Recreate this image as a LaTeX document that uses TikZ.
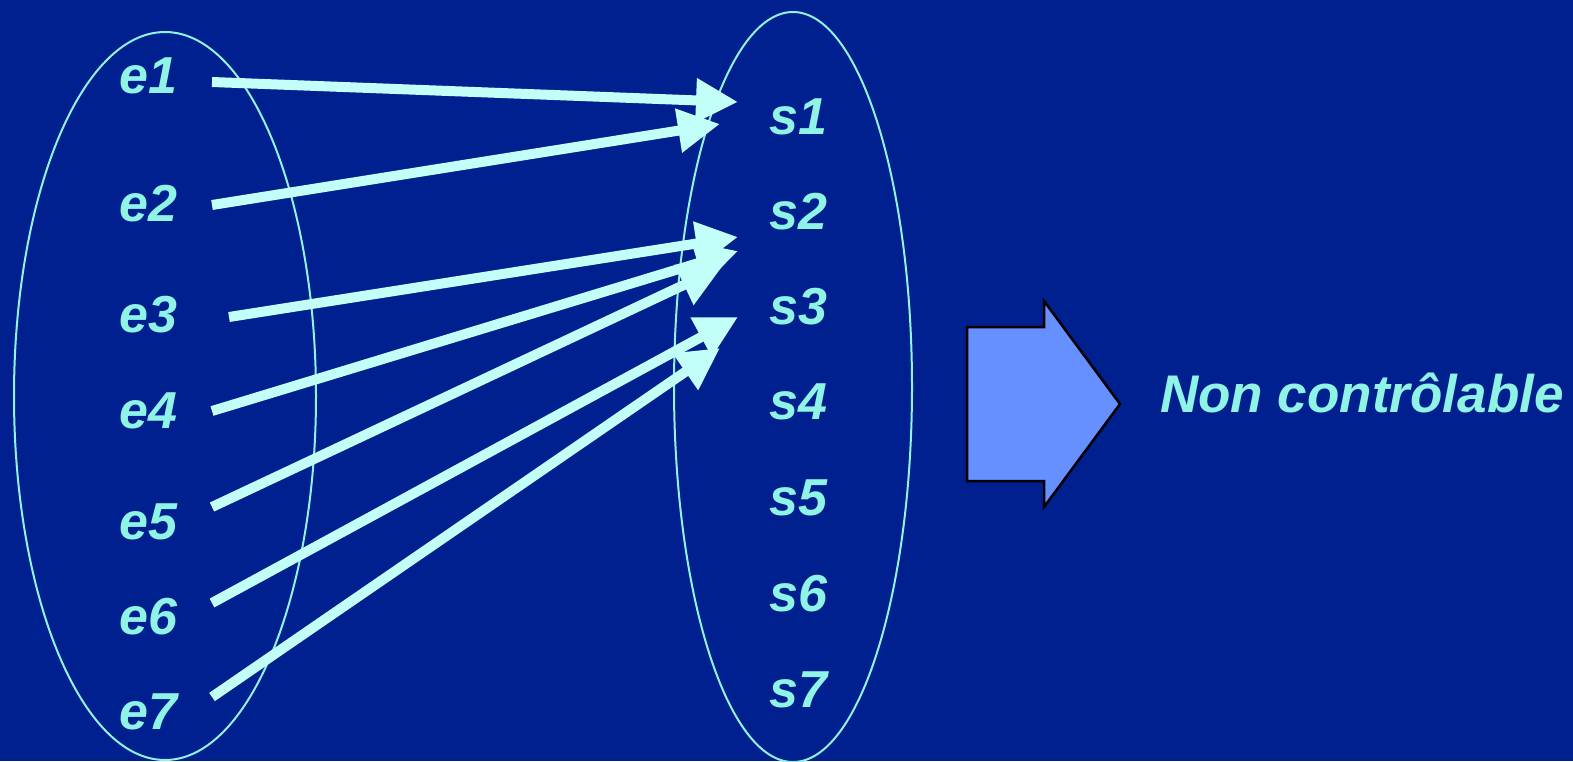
\documentclass[tikz,border=0pt]{standalone}
\usepackage{fontspec}
\setmainfont{Liberation Sans}
\usetikzlibrary{arrows.meta}
\definecolor{bg}{HTML}{00208F}
\definecolor{txt}{HTML}{8FF3E6}
\definecolor{arr}{HTML}{C2FFF8}
\definecolor{blk}{HTML}{6690FF}
\tikzset{
  lbl/.style={anchor=base west, inner sep=0pt, text=txt, font=\fontsize{52}{52}\selectfont\bfseries\itshape},
  setline/.style={draw=txt, line width=2pt},
  conn/.style={draw=arr, line width=10pt, -{Triangle[length=42pt,width=42pt]}},
}
\begin{document}
\begin{tikzpicture}[x=1pt,y=-1pt]
\fill[bg] (0,0) rectangle (1573,761);
\useasboundingbox (0,0) rectangle (1573,761);
% sets
\draw[setline] (165,396) ellipse [x radius=151, y radius=364];
\draw[setline] (793,387) ellipse [x radius=119, y radius=375];
% labels
\node[lbl] (e1) at (119,93) {e1};
\node[lbl] (e2) at (119,221) {e2};
\node[lbl] (e3) at (119,332) {e3};
\node[lbl] (e4) at (119,428) {e4};
\node[lbl] (e5) at (119,539) {e5};
\node[lbl] (e6) at (119,634) {e6};
\node[lbl] (e7) at (119,729) {e7};
\node[lbl] (s1) at (769,134) {s1};
\node[lbl] (s2) at (769,229) {s2};
\node[lbl] (s3) at (769,324) {s3};
\node[lbl] (s4) at (769,419) {s4};
\node[lbl] (s5) at (769,515) {s5};
\node[lbl] (s6) at (769,611) {s6};
\node[lbl] (s7) at (769,707) {s7};
% connector ends
\coordinate (a1) at (212,82);
\coordinate (a2) at (212,205);
\coordinate (a3) at (229,317);
\coordinate (a4) at (212,411);
\coordinate (a5) at (212,507);
\coordinate (a6) at (212,603);
\coordinate (a7) at (212,697);
\coordinate (b1) at (738,102);
\coordinate (b2) at (720,124);
\coordinate (b3) at (738,237);
\coordinate (b4) at (738,251);
\coordinate (b5) at (722,267);
\coordinate (b6) at (738,317);
\coordinate (b7) at (720,348);
\foreach \i in {1,...,7} {\draw[conn] (a\i) -- (b\i);}
% block arrow
\draw[fill=blk, draw=black, line width=2.5pt, line join=miter]
  (967,327) -- (1044,327) -- (1044,301) -- (1120,404) -- (1044,507) -- (1044,481) -- (967,481) -- cycle;
\node[lbl, font=\fontsize{53}{53}\selectfont\bfseries\itshape] (nc) at (1160,412) {Non contrôlable};
\end{tikzpicture}
\end{document}
